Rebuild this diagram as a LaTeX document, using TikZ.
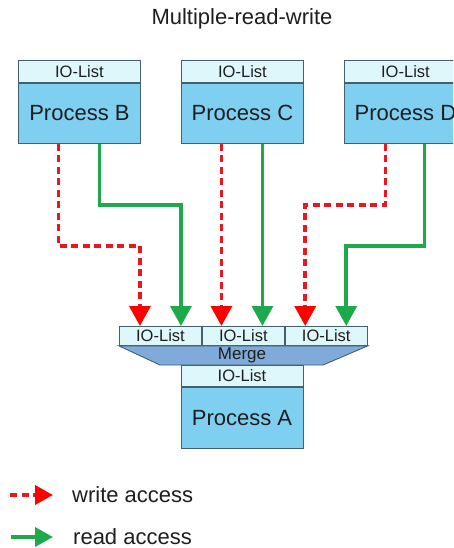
\documentclass[tikz,border=0pt]{standalone}
\usepackage{fontspec}
\setmainfont{Liberation Sans}
\usetikzlibrary{arrows.meta,calc}
\definecolor{iocol}{HTML}{DDF7FB}
\definecolor{proccol}{HTML}{7FCFF1}
\definecolor{mergecol}{HTML}{7FAADA}
\definecolor{edgecol}{HTML}{43606F}
\definecolor{redcol}{HTML}{E8191E}
\definecolor{greencol}{HTML}{1EA94C}
\definecolor{txtcol}{HTML}{1E1E1E}
\tikzset{
  iobox/.style={draw=edgecol, line width=0.9pt, fill=iocol, minimum width=122pt, minimum height=22pt,
    inner sep=0pt, text=txtcol, font=\fontsize{16.5}{18}\selectfont},
  cellbox/.style={iobox, minimum width=82pt, minimum height=19pt},
  procbox/.style={draw=edgecol, line width=0.9pt, fill=proccol, minimum width=122pt, minimum height=60pt,
    inner sep=0pt, text=txtcol, font=\fontsize{22}{24}\selectfont},
  wr/.style={draw=redcol, line width=3.6pt, dash pattern=on 7pt off 4.5pt,
    -{Triangle[width=21pt,length=20pt,fill=red,color=red]}},
  rd/.style={draw=greencol, line width=3.6pt,
    -{Triangle[width=21pt,length=20pt,fill=greencol,color=greencol]}},
  lbl/.style={text=txtcol, font=\fontsize{22}{24}\selectfont, inner sep=0pt}
}
\begin{document}
\begin{tikzpicture}[x=1pt,y=-1pt]
\clip (0,0) rectangle (453,548);
\fill[white] (0,0) rectangle (453,548);

\node[lbl, anchor=center] (title) at (242,19) {Multiple-read-write};

% top processes
\node[iobox, anchor=north west] (ioB) at (18,60) {IO-List};
\node[procbox, anchor=north] (pB) at (ioB.south) {Process B};
\node[iobox, anchor=north west] (ioC) at (181,60) {IO-List};
\node[procbox, anchor=north] (pC) at (ioC.south) {Process C};
\node[iobox, anchor=north west] (ioD) at (344,60) {IO-List};
\node[procbox, anchor=north] (pD) at (ioD.south) {Process D};

% merge cells
\node[cellbox, anchor=north west] (m1) at (119,326) {IO-List};
\node[cellbox, anchor=west] (m2) at (m1.east) {IO-List};
\node[cellbox, anchor=west] (m3) at (m2.east) {IO-List};

% merge trapezoid
\coordinate (tl) at (m1.south west);
\coordinate (tr) at (m3.south east);
\coordinate (bl) at (160,365);
\coordinate (br) at (323,365);
\draw[draw=edgecol, line width=0.9pt, fill=mergecol] (tl) -- (tr) -- (br) -- (bl) -- cycle;
\node[text=txtcol, font=\fontsize{17}{19}\selectfont, inner sep=0pt] (merge) at (242,355) {Merge};

% process A
\node[iobox, minimum height=21pt, anchor=north] (ioA) at (242,365) {IO-List};
\node[procbox, minimum height=61pt, anchor=north] (pA) at (ioA.south) {Process A};

% connectors
\draw[wr] ([xshift=-21pt]pB.south) -- ++(0,102) -| ([xshift=-20.5pt]m1.north);
\draw[rd] ([xshift=20pt]pB.south) -- ++(0,61) -| ([xshift=20.5pt]m1.north);
\draw[wr] ([xshift=-21pt]pC.south) -- ([xshift=-21pt]pC.south |- m2.north);
\draw[rd] ([xshift=20pt]pC.south) -- ([xshift=20pt]pC.south |- m2.north);
\draw[wr] ([xshift=-20pt]pD.south) -- ++(0,61) -| ([xshift=-21pt]m3.north);
\draw[rd] ([xshift=19pt]pD.south) -- ++(0,102) -| ([xshift=20pt]m3.north);

% legend
\coordinate (w0) at (10,495);
\coordinate (w1) at (53,495);
\coordinate (r0) at (11,537);
\coordinate (r1) at (53,537);
\draw[draw=redcol, line width=3.6pt, dash pattern=on 7pt off 4.5pt,
  -{Triangle[width=19pt,length=18pt,fill=red,color=red]}] (w0) -- (w1);
\draw[draw=greencol, line width=3.6pt,
  -{Triangle[width=19pt,length=18pt,fill=greencol,color=greencol]}] (r0) -- (r1);
\node[lbl, anchor=west] (wl) at (72,495) {write access};
\node[lbl, anchor=west] (rl) at (73,537) {read access};
\end{tikzpicture}
\end{document}
